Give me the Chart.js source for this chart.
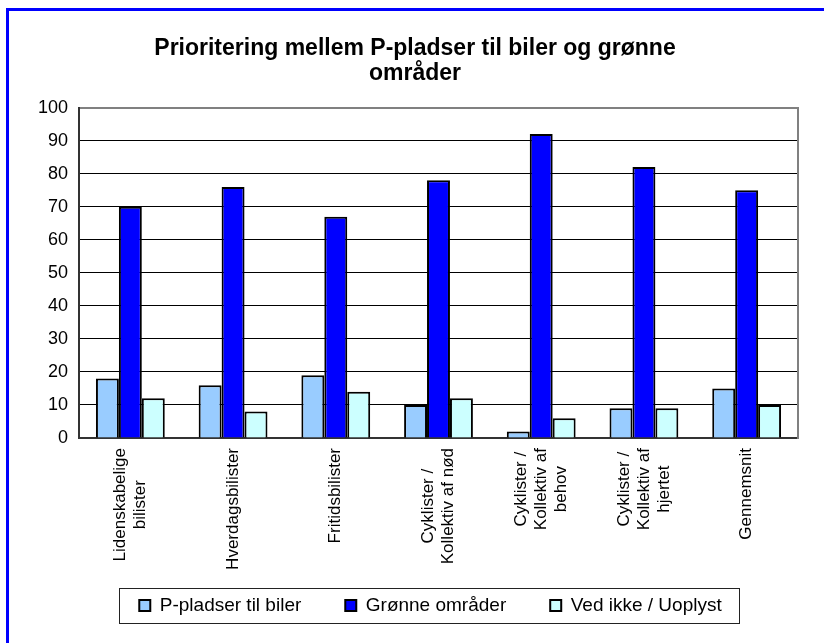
<!DOCTYPE html>
<html>
<head>
<meta charset="utf-8">
<script src="https://cdn.jsdelivr.net/npm/chart.js@4.4.0/dist/chart.umd.min.js"></script>
<style>
  html, body { margin: 0; padding: 0; background: #fff; overflow: hidden; }
  #frame { position: absolute; left: 6px; top: 8px; width: 840px; height: 660px; border: 3px solid #0000ff; }
  #wrap { position: absolute; left: 0; top: 0; width: 824px; height: 643px; }
</style>
</head>
<body>
<div id="frame"></div>
<div id="wrap"><canvas id="myChart" width="824" height="643"></canvas></div>
<script>
// kategorier (x-aksen)
const categories = [
  ['Lidenskabelige', 'bilister'],
  'Hverdagsbilister',
  'Fritidsbilister',
  ['Cyklister /', 'Kollektiv af nød'],
  ['Cyklister /', 'Kollektiv af', 'behov'],
  ['Cyklister /', 'Kollektiv af', 'hjertet'],
  'Gennemsnit'
];

// serier
const pPladser = [18, 16, 19, 10, 2, 9, 15];
const groenneOmraader = [70, 76, 67, 78, 92, 82, 75];
const vedIkke = [12, 8, 14, 12, 6, 9, 10];

const seriesNames = ['P-pladser til biler', 'Grønne områder', 'Ved ikke / Uoplyst'];
const titleLines = ['Prioritering mellem P-pladser til biler og grønne', 'områder'];

// y-akse
const yMin = 0;
const yMax = 100;
const yStep = 10;

// kategori-tekster drejet 90 grader + ramme om legenden
const extras = {
  id: 'extras',
  afterLayout(chart) {
    // legenden sidder lidt til venstre i originalen
    chart.legend.left -= 8;
    chart.legend.right -= 8;
  },
  afterDraw(chart) {
    const ctx = chart.ctx;
    const xScale = chart.scales.x;
    ctx.save();
    ctx.font = '17px Arial';
    ctx.fillStyle = '#000';
    ctx.textAlign = 'center';
    ctx.textBaseline = 'middle';
    categories.forEach((label, i) => {
      const lines = Array.isArray(label) ? label : [label];
      const maxW = Math.max(...lines.map(l => ctx.measureText(l).width));
      const x = xScale.getPixelForValue(i);
      ctx.save();
      ctx.translate(x, xScale.top + 10);
      ctx.rotate(-Math.PI / 2);
      lines.forEach((line, j) => {
        ctx.fillText(line, -maxW / 2, (j - (lines.length - 1) / 2) * 20);
      });
      ctx.restore();
    });

    // ramme om legenden
    const boxes = chart.legend.legendHitBoxes;
    if (boxes && boxes.length) {
      const first = boxes[0];
      const last = boxes[boxes.length - 1];
      const left = first.left - 20;
      const right = last.left + last.width + 18;
      const top = first.top - 8;
      const h = first.height + 16;
      ctx.strokeStyle = '#222';
      ctx.lineWidth = 1;
      ctx.strokeRect(Math.round(left) + 0.5, Math.round(top) + 0.5, Math.round(right - left), Math.round(h));
    }
    ctx.restore();
  }
};

const chart = document.getElementById('myChart').getContext('2d');
new Chart(chart, {
  type: 'bar',
  data: {
    labels: categories,
    datasets: [
      { label: seriesNames[0], data: pPladser, backgroundColor: '#99ccff', borderColor: '#000', borderWidth: 2 },
      { label: seriesNames[1], data: groenneOmraader, backgroundColor: '#0000ff', borderColor: '#000', borderWidth: 2 },
      { label: seriesNames[2], data: vedIkke, backgroundColor: '#ccffff', borderColor: '#000', borderWidth: 2 }
    ]
  },
  options: {
    responsive: false,
    animation: false,
    devicePixelRatio: 1,
    categoryPercentage: 0.67,
    barPercentage: 1.0,
    layout: { padding: { left: 6, right: 0, top: 0, bottom: 18 } },
    scales: {
      x: {
        ticks: { display: false },
        grid: { display: false, drawTicks: false },
        border: { color: '#333', width: 2 },
        afterFit: s => { s.height = 114; }
      },
      y: {
        min: yMin,
        max: yMax,
        ticks: { stepSize: yStep, font: { family: 'Arial', size: 18 }, color: '#000', padding: 11 },
        grid: {
          color: c => (c.tick.value === yMax || c.tick.value === yMin) ? '#808080' : '#000',
          lineWidth: c => c.tick.value === yMax ? 2 : 1,
          drawTicks: false
        },
        border: { color: '#333', width: 2 },
        afterFit: s => { s.width = 73; }
      },
      yR: {
        type: 'linear',
        position: 'right',
        ticks: { display: false },
        grid: { display: false, drawTicks: false },
        border: { display: true, color: '#808080', width: 2 },
        afterFit: s => { s.width = 26; }
      }
    },
    plugins: {
      tooltip: { enabled: false },
      title: {
        display: true,
        text: titleLines,
        color: '#000',
        font: { family: 'Arial', size: 23, weight: 'bold', lineHeight: 1.1 },
        padding: { top: 36, bottom: 21 }
      },
      legend: {
        position: 'bottom',
        fullSize: false,
        labels: {
          color: '#000',
          font: { family: 'Arial', size: 19 },
          boxWidth: 11,
          boxHeight: 11,
          padding: 44
        }
      }
    }
  },
  plugins: [extras]
});
</script>
</body>
</html>
